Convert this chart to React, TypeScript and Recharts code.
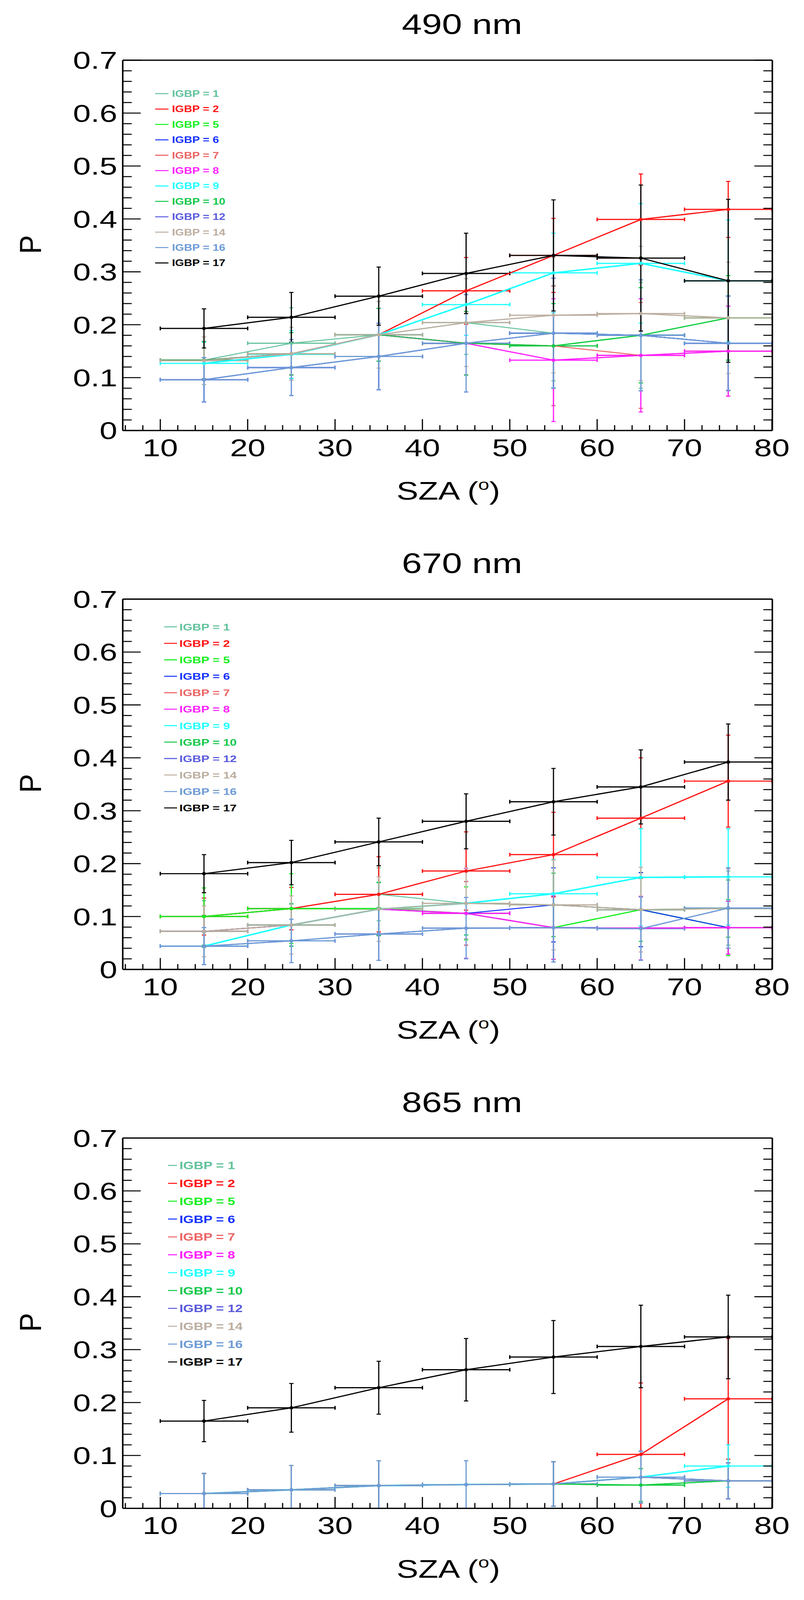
import React from "react";
import { ComposedChart, Scatter, XAxis, YAxis, ErrorBar } from "recharts";

// SZA bin centres and the half width of each bin (horizontal bars)
const SZA = [15, 25, 35, 45, 55, 65, 75];
const SZA_HALF = [5, 5, 5, 5, 5, 5, 5];

const IGBP = [1, 2, 5, 6, 7, 8, 9, 10, 12, 14, 16, 17];
const COLORS = [
  "#62c29c", "#ff1414", "#14f01e", "#1432ff", "#ec6464", "#ff1eff",
  "#1effff", "#14c84b", "#5a5adc", "#bcaea0", "#6e9bd6", "#000000",
];
const WIDTHS = [3, 3.5, 3.5, 3, 3, 3.5, 4.5, 3, 3, 3.5, 3.5, 3.5];

const X_LABELS = [10, 20, 30, 40, 50, 60, 70, 80];
const Y_LABELS = [0, 0.1, 0.2, 0.3, 0.4, 0.5, 0.6, 0.7];
const TITLES = ["490 nm", "670 nm", "865 nm"];

// 490 nm, one row per IGBP class (same order as IGBP)
const P490 = [
  [0.133, 0.165, 0.181, 0.204, 0.184, 0.18, 0.165],
  [0.133, 0.145, 0.181, 0.264, 0.331, 0.399, 0.418],
  [0.133, 0.145, 0.181, 0.165, 0.16, 0.18, 0.213],
  [0.096, 0.119, 0.14, 0.165, 0.184, 0.18, 0.165],
  [0.133, 0.145, 0.181, 0.165, 0.16, 0.142, 0.15],
  [0.133, 0.145, 0.181, 0.165, 0.133, 0.142, 0.15],
  [0.127, 0.144, 0.181, 0.238, 0.298, 0.316, 0.283],
  [0.133, 0.145, 0.181, 0.165, 0.16, 0.18, 0.213],
  [0.096, 0.119, 0.14, 0.165, 0.184, 0.18, 0.165],
  [0.132, 0.145, 0.181, 0.204, 0.218, 0.221, 0.213],
  [0.096, 0.119, 0.14, 0.165, 0.184, 0.18, 0.165],
  [0.193, 0.214, 0.254, 0.297, 0.331, 0.326, 0.283],
];
const E490 = [
  [0.035, 0.067, 0.05, 0.06, 0.09, 0.1, 0.09],
  [0.035, 0.04, 0.05, 0.063, 0.07, 0.086, 0.053],
  [0.035, 0.04, 0.05, 0.06, 0.08, 0.09, 0.08],
  [0.042, 0.053, 0.063, 0.092, 0.104, 0.105, 0.089],
  [0.035, 0.04, 0.05, 0.06, 0.113, 0.1, 0.085],
  [0.035, 0.04, 0.05, 0.06, 0.116, 0.107, 0.085],
  [0.04, 0.045, 0.05, 0.058, 0.075, 0.113, 0.115],
  [0.035, 0.04, 0.05, 0.06, 0.08, 0.09, 0.08],
  [0.042, 0.053, 0.063, 0.092, 0.104, 0.105, 0.089],
  [0.045, 0.05, 0.063, 0.083, 0.109, 0.127, 0.105],
  [0.042, 0.053, 0.063, 0.092, 0.104, 0.105, 0.089],
  [0.037, 0.047, 0.055, 0.076, 0.105, 0.138, 0.154],
];

// 670 nm
const P670 = [
  [0.1, 0.115, 0.142, 0.125, 0.122, 0.113, 0.116],
  [0.1, 0.115, 0.142, 0.186, 0.217, 0.286, 0.356],
  [0.1, 0.115, 0.115, 0.106, 0.079, 0.113, 0.079],
  [0.072, 0.084, 0.114, 0.106, 0.122, 0.113, 0.079],
  [0.072, 0.084, 0.114, 0.106, 0.079, 0.078, 0.079],
  [0.072, 0.084, 0.114, 0.106, 0.079, 0.078, 0.079],
  [0.044, 0.084, 0.114, 0.125, 0.143, 0.174, 0.175],
  [0.072, 0.084, 0.114, 0.125, 0.122, 0.113, 0.115],
  [0.044, 0.054, 0.067, 0.078, 0.079, 0.077, 0.116],
  [0.072, 0.084, 0.114, 0.125, 0.122, 0.113, 0.115],
  [0.044, 0.054, 0.067, 0.078, 0.079, 0.077, 0.116],
  [0.181, 0.202, 0.241, 0.28, 0.317, 0.345, 0.392],
];
const E670 = [
  [0.03, 0.04, 0.05, 0.06, 0.07, 0.07, 0.07],
  [0.035, 0.04, 0.071, 0.074, 0.08, 0.114, 0.087],
  [0.054, 0.066, 0.05, 0.05, 0.06, 0.07, 0.053],
  [0.03, 0.04, 0.05, 0.06, 0.07, 0.07, 0.05],
  [0.03, 0.04, 0.05, 0.06, 0.06, 0.06, 0.05],
  [0.03, 0.04, 0.05, 0.085, 0.06, 0.06, 0.05],
  [0.035, 0.04, 0.05, 0.06, 0.065, 0.092, 0.091],
  [0.03, 0.04, 0.05, 0.06, 0.06, 0.06, 0.054],
  [0.035, 0.041, 0.05, 0.058, 0.065, 0.06, 0.076],
  [0.048, 0.055, 0.061, 0.067, 0.085, 0.08, 0.075],
  [0.035, 0.041, 0.05, 0.058, 0.065, 0.06, 0.076],
  [0.036, 0.042, 0.045, 0.052, 0.063, 0.07, 0.072],
];

// 865 nm
const P865 = [
  [0.028, 0.035, 0.043, 0.045, 0.046, 0.059, 0.052],
  [0.028, 0.035, 0.043, 0.045, 0.046, 0.102, 0.207],
  [0.028, 0.035, 0.043, 0.045, 0.046, 0.044, 0.052],
  [0.028, 0.035, 0.043, 0.045, 0.046, 0.059, 0.052],
  [0.028, 0.035, 0.043, 0.045, 0.046, 0.059, 0.052],
  [0.028, 0.035, 0.043, 0.045, 0.046, 0.059, 0.052],
  [0.028, 0.035, 0.043, 0.045, 0.046, 0.059, 0.08],
  [0.028, 0.035, 0.043, 0.045, 0.046, 0.044, 0.052],
  [0.028, 0.035, 0.043, 0.045, 0.046, 0.059, 0.052],
  [0.028, 0.035, 0.043, 0.045, 0.046, 0.059, 0.052],
  [0.028, 0.035, 0.043, 0.045, 0.046, 0.059, 0.052],
  [0.165, 0.19, 0.228, 0.262, 0.286, 0.306, 0.324],
];
const E865 = [
  [0.038, 0.046, 0.047, 0.045, 0.042, 0.049, 0.034],
  [0.038, 0.046, 0.047, 0.045, 0.042, 0.135, 0.114],
  [0.038, 0.046, 0.047, 0.045, 0.042, 0.031, 0.034],
  [0.038, 0.046, 0.047, 0.045, 0.042, 0.049, 0.034],
  [0.038, 0.046, 0.047, 0.045, 0.042, 0.049, 0.034],
  [0.038, 0.046, 0.047, 0.045, 0.042, 0.049, 0.034],
  [0.038, 0.046, 0.047, 0.045, 0.042, 0.049, 0.04],
  [0.038, 0.046, 0.047, 0.045, 0.042, 0.031, 0.034],
  [0.038, 0.046, 0.047, 0.045, 0.042, 0.049, 0.034],
  [0.038, 0.046, 0.047, 0.045, 0.042, 0.049, 0.034],
  [0.038, 0.046, 0.047, 0.045, 0.042, 0.049, 0.034],
  [0.039, 0.046, 0.05, 0.059, 0.069, 0.078, 0.079],
];

const FONT = '"Liberation Sans", Arial, Helvetica, sans-serif';
const W = 2057;
const PAGE_H = 4783; // layout height of the figure
const VIEW_H = 4096; // the browser window is only this tall, so squeeze vertically
const H = 1560;
const STEP = 1611;
const X_DOMAIN = [5.7, 80.05];
const Y_DOMAIN = [0, 0.7];

// minor ticks every 2 deg / 0.02
const X_TICKS = Array.from({ length: 38 }, (_, i) => 6 + i * 2);
const Y_TICKS = Array.from({ length: 36 }, (_, i) => Math.round(i * 2) / 100);
const isX = (v) => X_LABELS.includes(v);
const isY = (v) => Y_LABELS.some((l) => Math.abs(l - v) < 1e-9);

const BottomTick = ({ x, y, payload }: any) => {
  const major = isX(payload.value);
  return (
    <g>
      <line x1={x} x2={x} y1={y} y2={y - (major ? 34 : 16)} stroke="#000" strokeWidth={3} />
      {major && (
        <text transform={`translate(${x} ${y + 77}) scale(1.1 1)`} textAnchor="middle" fontSize={74} fontFamily={FONT} fill="#000">
          {payload.value}
        </text>
      )}
    </g>
  );
};
const TopTick = ({ x, y, payload }: any) => (
  <line x1={x} x2={x} y1={y} y2={y + (isX(payload.value) ? 34 : 16)} stroke="#000" strokeWidth={3} />
);
const LeftTick = ({ x, y, payload }: any) => {
  const major = isY(payload.value);
  return (
    <g>
      <line x1={x} x2={x + (major ? 46 : 23)} y1={y} y2={y} stroke="#000" strokeWidth={3} />
      {major && (
        <text transform={`translate(${x - 14} ${y + 26}) scale(1.1 1)`} textAnchor="end" fontSize={74} fontFamily={FONT} fill="#000">
          {payload.value === 0 ? "0" : payload.value.toFixed(1)}
        </text>
      )}
    </g>
  );
};
const RightTick = ({ x, y, payload }: any) => (
  <line x1={x} x2={x - (isY(payload.value) ? 46 : 23)} y1={y} y2={y} stroke="#000" strokeWidth={3} />
);

type LegendT = { l1: number; l2: number; tx: number; y0: number; dy: number; fs: number };
const LEGENDS: LegendT[] = [
  { l1: 397, l2: 431, tx: 440, y0: 280, dy: 46, fs: 27 },
  { l1: 420, l2: 453, tx: 459, y0: 263, dy: 49.2, fs: 29 },
  { l1: 430, l2: 453, tx: 459, y0: 262, dy: 53.4, fs: 32 },
];

const Panel = ({ idx, values, errors }: { idx: number; values: number[][]; errors: number[][] }) => {
  const lg = LEGENDS[idx];
  return (
    <div style={{ position: "absolute", left: 0, top: idx * STEP, width: W, height: H }}>
      <ComposedChart width={W} height={H} margin={{ top: 179, right: 80, bottom: 272, left: 313 }}>
        <XAxis
          xAxisId={0}
          dataKey="x"
          type="number"
          domain={X_DOMAIN}
          allowDataOverflow
          ticks={X_TICKS}
          interval={0}
          height={1}
          tickSize={0}
          tickMargin={0}
          tickLine={false}
          axisLine={{ stroke: "#000", strokeWidth: 4 }}
          tick={(p) => <BottomTick {...p} />}
        />
        <XAxis
          xAxisId="top"
          orientation="top"
          type="number"
          domain={X_DOMAIN}
          allowDataOverflow
          ticks={X_TICKS}
          interval={0}
          height={1}
          tickSize={0}
          tickMargin={0}
          tickLine={false}
          axisLine={{ stroke: "#000", strokeWidth: 4 }}
          tick={(p) => <TopTick {...p} />}
        />
        <YAxis
          yAxisId={0}
          dataKey="y"
          type="number"
          domain={Y_DOMAIN}
          allowDataOverflow
          ticks={Y_TICKS}
          interval={0}
          width={1}
          tickSize={0}
          tickMargin={0}
          tickLine={false}
          axisLine={{ stroke: "#000", strokeWidth: 4 }}
          tick={(p) => <LeftTick {...p} />}
        />
        <YAxis
          yAxisId="right"
          orientation="right"
          type="number"
          domain={Y_DOMAIN}
          allowDataOverflow
          ticks={Y_TICKS}
          interval={0}
          width={1}
          tickSize={0}
          tickMargin={0}
          tickLine={false}
          axisLine={{ stroke: "#000", strokeWidth: 4 }}
          tick={(p) => <RightTick {...p} />}
        />
        {IGBP.map((code, s) => {
          const c = COLORS[s];
          // lower whisker stops at the x axis, as in the original plot
          const data = SZA.map((x, i) => {
            const v = values[s][i];
            const e = errors[s][i];
            return { x, y: v, ex: SZA_HALF[i], ey: [Math.min(e, v), e] };
          });
          return (
            <Scatter
              key={code}
              name={`IGBP = ${code}`}
              data={data}
              xAxisId={0}
              yAxisId={0}
              fill={c}
              line={{ stroke: c, strokeWidth: WIDTHS[s] }}
              lineType="joint"
              isAnimationActive={false}
              shape={(p: any) => <circle cx={p.cx} cy={p.cy} r={5} fill={c} />}
            >
              <ErrorBar dataKey="ey" direction="y" width={5.5} stroke={c} strokeWidth={3} />
              <ErrorBar dataKey="ex" direction="x" width={5.5} stroke={c} strokeWidth={3.5} />
            </Scatter>
          );
        })}
      </ComposedChart>
      <svg width={W} height={H} style={{ position: "absolute", left: 0, top: 0, pointerEvents: "none" }}>
        <text transform="translate(1182 102) scale(1.1 1)" textAnchor="middle" fontSize={84} fontFamily={FONT}>
          {TITLES[idx]}
        </text>
        <text transform="translate(1147 1494) scale(1.1 1)" textAnchor="middle" fontSize={76} fontFamily={FONT}>
          SZA (
          <tspan fontSize={46} dy={-30}>o</tspan>
          <tspan fontSize={76} dy={30}>)</tspan>
        </text>
        <text transform="translate(105 731) rotate(-90) scale(1.1 1)" textAnchor="middle" fontSize={77} fontFamily={FONT}>
          P
        </text>
        {IGBP.map((code, s) => {
          const y = lg.y0 + s * lg.dy;
          return (
            <g key={code}>
              <line x1={lg.l1} x2={lg.l2} y1={y} y2={y} stroke={COLORS[s]} strokeWidth={3} />
              <text
                transform={`translate(${lg.tx} ${y + lg.fs * 0.36}) scale(1.08 1)`}
                fontSize={lg.fs}
                fontWeight="bold"
                fontFamily={FONT}
                fill={COLORS[s]}
              >
                {`IGBP = ${code}`}
              </text>
            </g>
          );
        })}
      </svg>
    </div>
  );
};

const App = () => (
  <div style={{ width: W, height: VIEW_H, margin: "-8px 0 0 -8px", overflow: "hidden", background: "#fff" }}>
    <div
      style={{
        position: "relative",
        width: W,
        height: PAGE_H,
        transform: `scale(1, ${VIEW_H / PAGE_H})`,
        transformOrigin: "0 0",
      }}
    >
      <Panel idx={0} values={P490} errors={E490} />
      <Panel idx={1} values={P670} errors={E670} />
      <Panel idx={2} values={P865} errors={E865} />
    </div>
  </div>
);

export default App;
